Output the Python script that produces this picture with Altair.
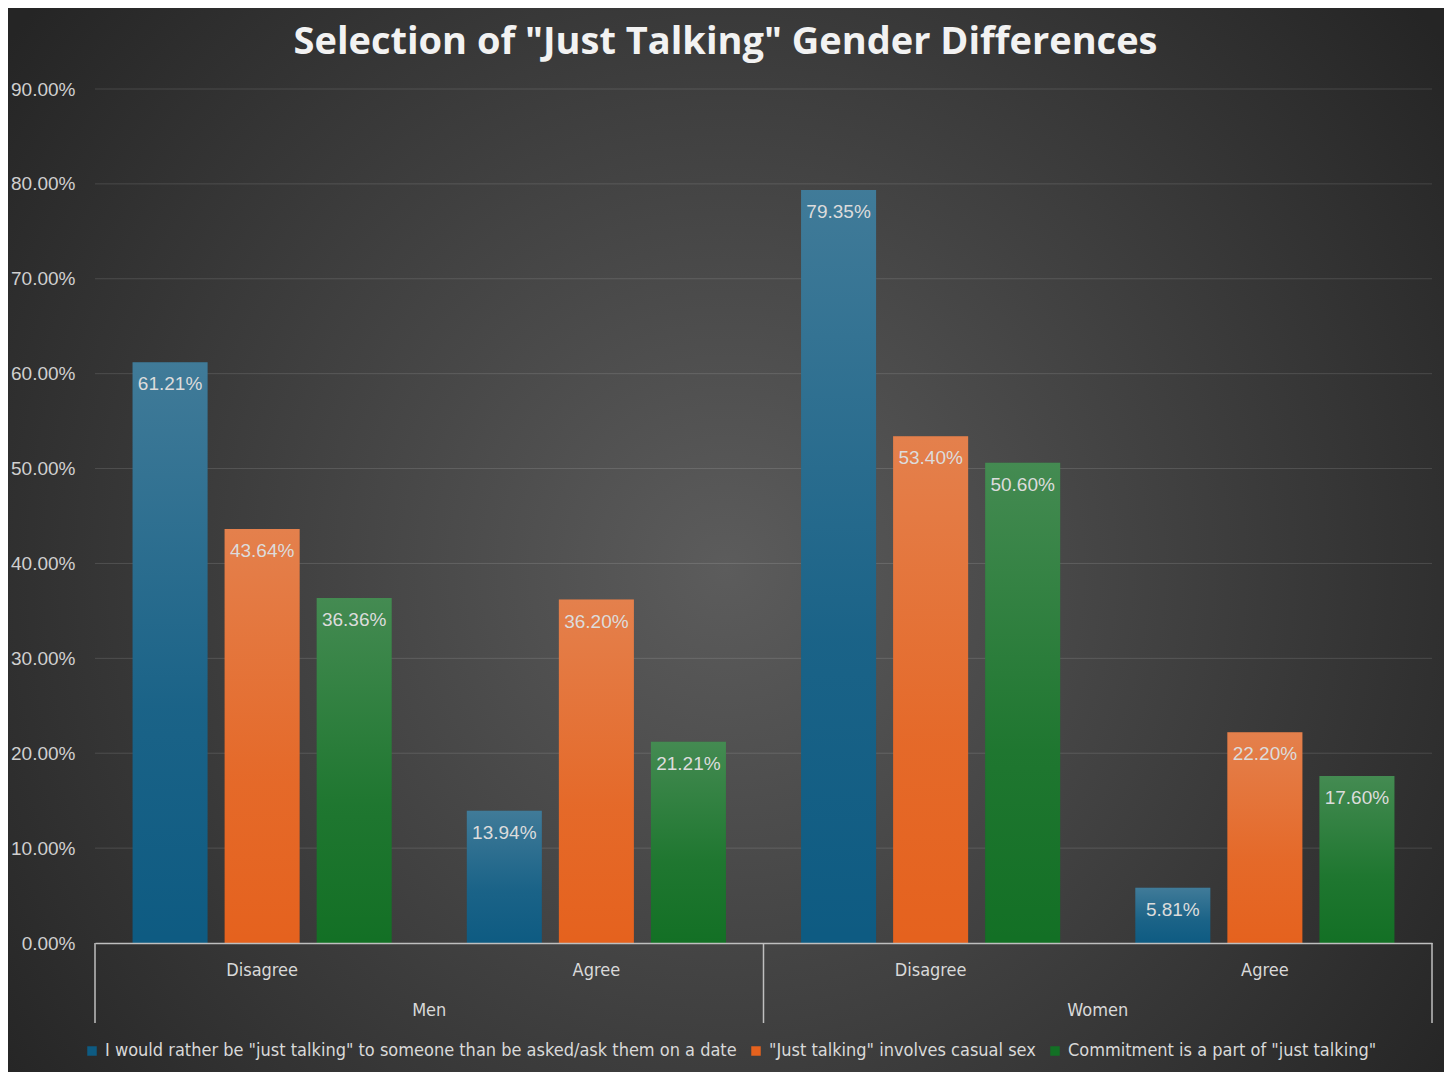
import altair as alt
import pandas as pd

genders = ["Men", "Men", "Women", "Women"]
responses = ["Disagree", "Agree", "Disagree", "Agree"]
series = [
    'I would rather be "just talking" to someone than be asked/ask them on a date',
    '"Just talking" involves casual sex',
    'Commitment is a part of "just talking"',
]
vals_rather = [61.21, 13.94, 79.35, 5.81]
vals_casual = [43.64, 36.20, 53.40, 22.20]
vals_commit = [36.36, 21.21, 50.60, 17.60]
colors = ["#0e5b82", "#e5621e", "#137025"]
y_ticks = [0, 10, 20, 30, 40, 50, 60, 70, 80, 90]

cats = [f"{g}|{r}" for g, r in zip(genders, responses)]
rows = []
for s, vals in zip(series, [vals_rather, vals_casual, vals_commit]):
    for c, g, r, v in zip(cats, genders, responses, vals):
        rows.append({"cat": c, "gender": g, "response": r, "series": s, "value": v})
df = pd.DataFrame(rows)

gender_df = pd.DataFrame({"cat": ["Men|Disagree", "Women|Disagree"], "gender": ["Men", "Women"]})
div_left = pd.DataFrame({"cat": ["Men|Disagree", "Women|Disagree"]})
div_right = pd.DataFrame({"cat": ["Women|Agree"]})
grid_df = pd.DataFrame({"value": y_ticks[1:]})

W, H = 1337, 854
FONT_N = "Liberation Sans Narrow, DejaVu Sans Condensed, Roboto"
FONT = "Liberation Sans"

xscale = alt.Scale(domain=cats, paddingInner=0, paddingOuter=0)
xoff = alt.Scale(domain=series, paddingInner=0.185, paddingOuter=0.408)
yscale = alt.Scale(domain=[0, 90], nice=False)

bg_grad = alt.RadialGradient(
    gradient="radial", x1=0.5, y1=0.52, x2=0.5, y2=0.52, r1=0, r2=0.62,
    stops=[alt.GradientStop(offset=0, color="#5c5c5c"),
           alt.GradientStop(offset=1, color="#252525")],
)
bg = alt.Chart(pd.DataFrame({"a": [0]})).mark_rect(fill=bg_grad).encode(
    x=alt.value(-87), x2=alt.value(W + 12), y=alt.value(-81), y2=alt.value(H + 129)
)

grid = alt.Chart(grid_df).mark_rule(color="#ffffff", opacity=0.13, strokeWidth=1).encode(
    y=alt.Y("value:Q", scale=yscale), x=alt.value(0), x2=alt.value(W)
)

base = alt.Chart(df).encode(
    x=alt.X("cat:N", scale=xscale, sort=cats,
            axis=alt.Axis(title=None, labelExpr="split(datum.value, '|')[1]",
                          labelAngle=0, labelFont=FONT_N, labelFontSize=18,
                          labelColor="#d9d9d9", labelPadding=18, ticks=False,
                          domainColor="#bfbfbf", domainWidth=1.5, grid=False,
                          zindex=1)),
    xOffset=alt.XOffset("series:N", scale=xoff, sort=series),
    y=alt.Y("value:Q", scale=yscale,
            axis=alt.Axis(title=None, values=y_ticks,
                          labelExpr="format(datum.value, '.2f') + '%'",
                          labelFont=FONT, labelFontSize=19, labelColor="#d0d0d0",
                          labelPadding=20, ticks=False, domain=False,
                          grid=False, zindex=1)),
)

bars = base.mark_bar().encode(
    color=alt.Color("series:N", sort=series,
                    scale=alt.Scale(domain=series, range=colors),
                    legend=alt.Legend(title=None, orient="none", direction="horizontal",
                                      columns=3, legendX=-12, legendY=953,
                                      symbolType="square", symbolSize=90,
                                      symbolStrokeWidth=0, labelFont=FONT_N,
                                      labelFontSize=18, labelColor="#d9d9d9",
                                      columnPadding=10, labelLimit=800,
                                      symbolOffset=0, labelOffset=4))
)

shine = alt.LinearGradient(
    gradient="linear", x1=0, y1=0, x2=0, y2=1,
    stops=[alt.GradientStop(offset=0, color="rgba(224,224,224,0.24)"),
           alt.GradientStop(offset=0.6, color="rgba(224,224,224,0.06)"),
           alt.GradientStop(offset=1, color="rgba(224,224,224,0)")],
)
overlay = base.mark_bar(fill=shine)

labels = base.mark_text(baseline="middle", dy=22, font=FONT, fontSize=19,
                        color="#dcdcdc").transform_calculate(
    lbl="format(datum.value, '.2f') + '%'"
).encode(text="lbl:N")

glabels = alt.Chart(gender_df).mark_text(
    font=FONT_N, fontSize=18, color="#d9d9d9", baseline="middle", dx=W / 4
).encode(
    x=alt.X("cat:N", scale=xscale, sort=cats, bandPosition=0),
    y=alt.value(H + 68), text="gender:N"
)

rule_l = alt.Chart(div_left).mark_rule(color="#bfbfbf", strokeWidth=1.5).encode(
    x=alt.X("cat:N", scale=xscale, sort=cats, bandPosition=0),
    y=alt.value(H), y2=alt.value(H + 80)
)
rule_r = alt.Chart(div_right).mark_rule(color="#bfbfbf", strokeWidth=1.5).encode(
    x=alt.X("cat:N", scale=xscale, sort=cats, bandPosition=1),
    y=alt.value(H), y2=alt.value(H + 80)
)

chart = alt.layer(bg, grid, bars, overlay, labels, glabels, rule_l, rule_r).properties(
    width=W, height=H,
    autosize=alt.AutoSizeParams(type="none"),
    padding={"left": 87, "top": 81, "right": 12, "bottom": 129},
    background="#2a2a2a",
    title=alt.Title('Selection of "Just Talking" Gender Differences',
                    font="Open Sans", fontSize=38, fontWeight="bold", color="#f2f2f2",
                    anchor="middle", dx=-38, offset=-54),
).configure_view(stroke=None)

chart.save("out.html", embed_options={"renderer": "svg", "actions": False})
